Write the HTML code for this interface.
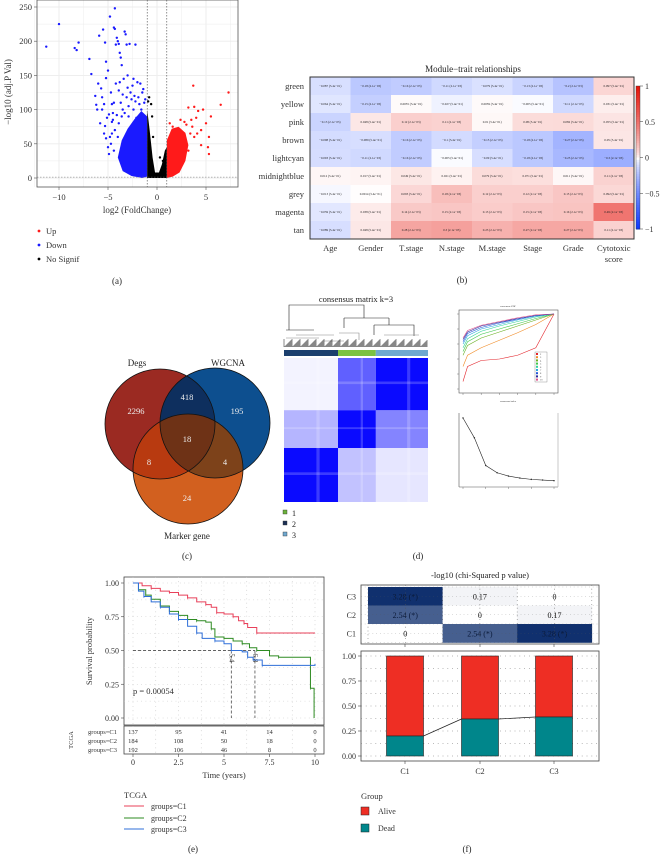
<!DOCTYPE html>
<html><head><meta charset="utf-8">
<style>
html,body{margin:0;padding:0;background:#fff;}
svg{display:block;font-family:"Liberation Serif",serif;}
</style></head>
<body>
<svg id="fig" width="664" height="854" viewBox="0 0 664 854" xmlns="http://www.w3.org/2000/svg">
<defs>
 <clipPath id="cDegs"><circle cx="160" cy="424" r="55"/></clipPath>
 <clipPath id="cWg"><circle cx="215" cy="423" r="55"/></clipPath>
 <clipPath id="cMk"><circle cx="188" cy="469" r="55"/></clipPath>
</defs>
<g id="pa"></g>
<g id="pb"></g>
<g id="pc">
 <circle cx="160" cy="424" r="55" fill="#9b2a22"/>
 <circle cx="215" cy="423" r="55" fill="#0d4f8f"/>
 <circle cx="188" cy="469" r="55" fill="#d2601f"/>
 <g clip-path="url(#cDegs)"><circle cx="215" cy="423" r="55" fill="#0e2f5e"/><circle cx="188" cy="469" r="55" fill="#b83a10"/></g>
 <g clip-path="url(#cWg)"><circle cx="188" cy="469" r="55" fill="#7d421a"/></g>
 <g clip-path="url(#cDegs)"><g clip-path="url(#cWg)"><circle cx="188" cy="469" r="55" fill="#6e3216"/></g></g>
 <circle cx="160" cy="424" r="55" fill="none" stroke="#111" stroke-width="0.8"/>
 <circle cx="215" cy="423" r="55" fill="none" stroke="#111" stroke-width="0.8"/>
 <circle cx="188" cy="469" r="55" fill="none" stroke="#111" stroke-width="0.8"/>
 <g font-size="8.5" fill="#eee" text-anchor="middle">
  <text x="136" y="414">2296</text>
  <text x="187" y="400">418</text>
  <text x="237" y="414">195</text>
  <text x="187" y="442">18</text>
  <text x="149" y="465">8</text>
  <text x="225" y="465">4</text>
  <text x="187" y="501">24</text>
 </g>
 <g font-size="9" fill="#222" text-anchor="middle">
  <text x="137" y="366">Degs</text>
  <text x="228" y="366">WGCNA</text>
  <text x="187" y="539">Marker gene</text>
  <text x="187" y="559">(c)</text>
 </g>
</g>
<g id="pd"></g>
<g id="pe"></g>
<g id="pf"></g>
</svg>
<script>
// ---------- DATA ----------
const volcBlue=[[-11.3,192],[-10,225],[-8.4,190],[-8.2,187],[-8,198],[-6.9,174],[-6.7,152],[-6.3,120],[-6.2,107],[-6.1,100],[-6,138],[-5.9,208],[-5.7,131],[-5.5,217],[-5.3,198],[-5.2,170],[-5.2,146],[-5,157],[-4.8,236],[-4.6,108],[-4.5,95],[-4.4,220],[-4.3,218],[-4.2,195],[-4.1,205],[-4,200],[-3.9,196],[-3.8,183],[-3.7,176],[-3.3,214],[-3.2,210],[-3.1,195],[-2.8,196],[-2.2,195],[-3.6,165],[-3.4,145],[-3,150],[-2.5,135],[-2,140],[-1.5,125],[-4.3,248],[-5.6,118],[-5.4,108],[-4.9,93],[-4.7,125],[-4.2,138],[-3.9,128],[-3.5,122],[-3.1,118],[-2.6,115],[-2.2,112],[-1.8,108],[-1.3,110],[-5.2,58],[-5,45],[-4.8,60],[-4.9,35],[-4.6,82],[-5.3,76],[-5.1,88],[-4.3,70],[-4.7,50],[-3.5,100],[-2.9,105],[-2.4,100],[-1.6,100],[-3.2,40],[-3.3,20],[-4,60],[-4.4,40],[-2.1,88],[-1.2,115],[-5.8,80],[-5.4,65],[-4.5,85],[-4.1,92],[-3.7,110],[-3.3,95],[-2.7,125],[-2.3,120],[-1.9,118],[-1.4,130],[-3.9,80],[-3.6,90],[-4.4,110],[-3,132],[-2.4,145],[-1.7,138],[-3.8,140],[-2.9,90],[-4.6,65],[-5.6,100]];
const volcRed=[[7.3,125],[6.5,107],[5.5,90],[5.3,60],[5.2,45],[5.3,35],[5,80],[4.7,100],[4.2,98],[3.8,104],[3.7,135],[3.2,103],[3.5,85],[4,88],[4.5,70],[3,78],[3.8,60],[3.4,65],[4.5,48],[2.9,55],[3.2,40],[2.6,30],[1.3,80],[1.6,75],[2.4,85],[2.8,82],[3.6,75],[4.1,65]];
const volcBlack=[[-0.8,118],[-0.6,108],[-0.9,112],[-0.5,90],[-0.4,60],[0.3,30],[0.6,25]];
const blobBlue=[[-1,2],[-1,90],[-1.6,98],[-2.3,86],[-3,72],[-3.6,55],[-4,30],[-3.5,10],[-2.6,3],[-1.5,0]];
const blobBlack=[[-1,0],[-1,100],[-0.75,70],[-0.45,30],[-0.2,8],[0.2,8],[0.5,20],[0.8,40],[1,45],[1,0]];
const blobRed=[[1,0],[1,55],[1.5,72],[2.2,75],[2.9,66],[3.2,48],[2.9,25],[2.3,8],[1.6,2]];
const volcXTicks=[-10,-5,0,5];
const volcYTicks=[0,50,100,150,200,250];
const modules=["green","yellow","pink","brown","lightcyan","midnightblue","grey","magenta","tan"];
const traits=["Age","Gender","T.stage","N.stage","M.stage","Stage","Grade","Cytotoxic score"];
const corrVals=[
[-0.087,-0.18,-0.16,-0.11,-0.079,-0.13,-0.2,0.097],
[-0.064,-0.15,0.0055,-0.027,0.0059,-0.005,-0.11,0.031],
[-0.13,0.048,0.12,0.11,0.01,0.08,0.082,0.055],
[-0.098,-0.089,-0.16,-0.1,-0.15,-0.18,-0.27,0.05],
[-0.093,-0.11,-0.16,-0.005,-0.09,-0.18,-0.25,-0.3],
[0.012,0.017,0.049,0.021,0.079,0.071,0.011,0.11],
[-0.013,0.0014,0.093,0.18,0.12,0.12,0.15,0.092],
[-0.059,0.038,0.14,0.15,0.13,0.15,0.16,0.49],
[-0.089,0.048,0.28,0.3,0.23,0.27,0.27,0.11]];
const cbTicks=[1,0.5,0,-0.5,-1];
const clusterSizes=[150,105,145];
const blockIntensity=[[0.05,0.65,1.0],[0.3,1.0,0.5],[1.0,0.25,0.1]];
const cdfX=[0,0.05,0.2,0.4,0.6,0.8,1];
const cdfK=["2","3","4","5","6","7","8","9","10"];
const cdfY=[
[0.1,0.3,0.38,0.4,0.45,0.55,1],
[0.3,0.45,0.55,0.65,0.75,0.86,1],
[0.45,0.58,0.68,0.76,0.84,0.92,1],
[0.5,0.63,0.73,0.8,0.87,0.94,1],
[0.55,0.67,0.77,0.84,0.9,0.96,1],
[0.6,0.71,0.8,0.86,0.92,0.97,1],
[0.63,0.74,0.82,0.88,0.93,0.98,1],
[0.66,0.76,0.84,0.89,0.94,0.98,1],
[0.68,0.78,0.85,0.9,0.95,0.99,1]];
const cdfColors=["#e3242b","#f08a24","#6ab023","#3ec84a","#2fd39a","#2aa7e0","#2255d8","#2a2a9a","#e0508a"];
const deltaK=[2,3,4,5,6,7,8,9,10];
const deltaVals=[1.0,0.7,0.28,0.17,0.12,0.09,0.07,0.06,0.05];
const survC1=[[0,1],[0.5,0.98],[1,0.96],[1.5,0.94],[2,0.93],[2.5,0.91],[3,0.89],[3.5,0.86],[4,0.84],[4.3,0.82],[4.6,0.78],[5,0.77],[5.5,0.75],[5.8,0.72],[6.1,0.7],[6.3,0.67],[6.8,0.63],[10,0.63]];
const survC2=[[0,1],[0.3,0.95],[0.7,0.91],[1,0.88],[1.5,0.83],[2,0.79],[2.5,0.76],[3,0.73],[3.5,0.72],[4,0.71],[4.3,0.66],[4.5,0.6],[5,0.59],[5.5,0.57],[6,0.55],[6.4,0.52],[6.8,0.5],[7.5,0.46],[8,0.45],[9.75,0.45],[9.75,0.22],[9.95,0.0]];
const survC3=[[0,1],[0.3,0.94],[0.6,0.9],[1,0.86],[1.5,0.82],[2,0.77],[2.5,0.73],[3,0.68],[3.5,0.63],[3.8,0.59],[4.5,0.57],[5,0.55],[5.4,0.5],[6,0.49],[6.3,0.45],[6.6,0.43],[7.1,0.39],[10,0.4]];
const medians=[5.4,6.7];
const medianLabels=["5.4","6.8"];
const riskTimes=[0,2.5,5,7.5,10];
const riskC1=[137,95,41,14,0];
const riskC2=[184,108,50,18,0];
const riskC3=[192,106,46,8,0];
const survXTicks=[0,2.5,5,7.5,10];
const survYTicks=[0,0.25,0.5,0.75,1];
const groups=["C1","C2","C3"];
const chiVals=[[0,2.54,3.28],[2.54,0,0.17],[3.28,0.17,0]];
const deadFrac=[0.2,0.37,0.39];
const propTicks=[0,0.25,0.5,0.75,1];

const NS="http://www.w3.org/2000/svg";
function mk(p,tag,at,txt){const e=document.createElementNS(NS,tag);for(const k in at)e.setAttribute(k,at[k]);if(txt!==undefined)e.textContent=txt;p.appendChild(e);return e;}
const pa=document.getElementById('pa'),pb=document.getElementById('pb'),pd=document.getElementById('pd'),pe=document.getElementById('pe'),pf=document.getElementById('pf');

// ---------- (a) ----------
{
const X=v=>157+v*9.8, Y=v=>178-v*0.684;
mk(pa,'rect',{x:37,y:0,width:201,height:187,fill:'#fff'});
for(let v=-12.5;v<=7.5;v+=2.5){mk(pa,'line',{x1:X(v),x2:X(v),y1:0,y2:187,stroke:'#ececec','stroke-width':v%5===0?0.9:0.5});}
for(let v=0;v<=275;v+=25){if(Y(v)<0)continue;mk(pa,'line',{x1:37,x2:238,y1:Y(v),y2:Y(v),stroke:'#ececec','stroke-width':v%50===0?0.9:0.5});}
[[blobBlue,'#1a1aff'],[blobBlack,'#000'],[blobRed,'#ff1a1a']].forEach(([b,c])=>{
 const p=mk(pa,'polygon',{points:b.map(d=>X(d[0])+','+Y(d[1])).join(' '),fill:c});
 
 
});
[[volcBlue,'#1a1aff'],[volcRed,'#ff1a1a'],[volcBlack,'#000']].forEach(([arr,c])=>arr.forEach(d=>{
 const e=mk(pa,'circle',{cx:X(d[0]),cy:Y(d[1]),r:1.2,fill:c});
 
 
}));
[-1,1].forEach(v=>mk(pa,'line',{x1:X(v),x2:X(v),y1:0,y2:187,stroke:'#444','stroke-width':0.6,'stroke-dasharray':'1.5,1.5'}));
mk(pa,'line',{x1:37,x2:238,y1:Y(1.3),y2:Y(1.3),stroke:'#777','stroke-width':0.5,'stroke-dasharray':'1.5,1.5'});
mk(pa,'rect',{x:37,y:0,width:201,height:187,fill:'none',stroke:'#555','stroke-width':0.8});
volcXTicks.forEach(v=>{mk(pa,'line',{x1:X(v),x2:X(v),y1:187,y2:190,stroke:'#555','stroke-width':0.6});
 const t=mk(pa,'text',{x:X(v),y:200,'font-size':8.5,'text-anchor':'middle',fill:'#333'},v<0?'\u2212'+(-v):String(v));
 });
volcYTicks.forEach(v=>{mk(pa,'line',{x1:34,x2:37,y1:Y(v),y2:Y(v),stroke:'#555','stroke-width':0.6});
 const t=mk(pa,'text',{x:32,y:Y(v)+3,'font-size':8.5,'text-anchor':'end',fill:'#333'},String(v));
 });
let t=mk(pa,'text',{x:137,y:213,'font-size':9,'text-anchor':'middle',fill:'#333'},'log2 (FoldChange)');

t=mk(pa,'text',{x:11,y:92,'font-size':9,'text-anchor':'middle',fill:'#333',transform:'rotate(-90 11 92)'},'\u2212log10 (adj.P Val)');

[['Up','#ff1a1a',231],['Down','#1a1aff',245],['No Signif','#000',259]].forEach(([n,c,y])=>{
 const g=mk(pa,'g',{});
 
 mk(g,'circle',{cx:39,cy:y,r:1.4,fill:c});mk(g,'text',{x:46,y:y+3,'font-size':8.5,fill:'#333'},n);});
t=mk(pa,'text',{x:117,y:284,'font-size':9,'text-anchor':'middle',fill:'#222'},'(a)');

}

// ---------- (b) ----------
{
const x0=310,y0=77,cw=40.5,rh=18;
function col(v){const t=Math.pow(Math.min(1,Math.abs(v)),0.75);
 if(v>=0){return `rgb(${Math.round(255-t*25)},${Math.round(255-t*235)},${Math.round(255-t*245)})`;}
 return `rgb(${Math.round(255-t*245)},${Math.round(255-t*200)},255)`;}
corrVals.forEach((row,i)=>row.forEach((v,j)=>{
 const r=mk(pb,'rect',{x:x0+j*cw,y:y0+i*rh,width:cw+0.3,height:rh+0.3,fill:col(v)});
 
 mk(pb,'text',{x:x0+j*cw+cw/2,y:y0+i*rh+rh/2+1.2,'font-size':3.2,'text-anchor':'middle',fill:'#222'},(v<0?'\u2212'+(-v):v)+' ('+(Math.abs(v)>0.1?'2.1e\u221203':'5.4e\u221201')+')');
}));
mk(pb,'rect',{x:x0,y:y0,width:cw*8,height:rh*9,fill:'none',stroke:'#333','stroke-width':1});
modules.forEach((m,i)=>{const t=mk(pb,'text',{x:304,y:y0+i*rh+rh/2+3,'font-size':8.5,'text-anchor':'end',fill:'#333'},m);
 });
traits.forEach((m,j)=>{const cx=x0+j*cw+cw/2;
 if(m==='Cytotoxic score'){const t=mk(pb,'text',{x:cx,y:251,'font-size':8.5,'text-anchor':'middle',fill:'#333'},'Cytotoxic');
  
  mk(pb,'text',{x:cx,y:262,'font-size':8.5,'text-anchor':'middle',fill:'#333'},'score');}
 else{const t=mk(pb,'text',{x:cx,y:251,'font-size':8.5,'text-anchor':'middle',fill:'#333'},m);
  }});
let t=mk(pb,'text',{x:473,y:72,'font-size':9,'text-anchor':'middle',fill:'#222'},'Module\u2212trait relationships');

const cbT=86,cbB=229,cbX=636;
const CY=v=>cbT+(1-v)/2*(cbB-cbT);
for(let k=0;k<60;k++){const v=1-k/30;mk(pb,'rect',{x:cbX,y:CY(v),width:4,height:(cbB-cbT)/60+0.5,fill:col(v)});}
const cb=mk(pb,'rect',{x:cbX,y:cbT,width:4,height:cbB-cbT,fill:'none',stroke:'#333','stroke-width':0.4});

cbTicks.forEach(v=>{mk(pb,'line',{x1:cbX+4,x2:cbX+7,y1:CY(v),y2:CY(v),stroke:'#333','stroke-width':0.5});
 const t=mk(pb,'text',{x:cbX+9,y:CY(v)+3,'font-size':8,fill:'#333'},v<0?'\u2212'+(-v):String(v));
 });
t=mk(pb,'text',{x:462,y:283,'font-size':9,'text-anchor':'middle',fill:'#222'},'(b)');

}

// ---------- (d) ----------
{
const mx=284,my=358,mw=144,mh=144;
const tot=clusterSizes.reduce((a,b)=>a+b,0);
const colW=clusterSizes.map(s=>s/tot*mw);
const colX=[mx,mx+colW[0],mx+colW[0]+colW[1]];
const rowOrder=[2,1,0];
let t=mk(pd,'text',{x:356,y:302,'font-size':8.5,'text-anchor':'middle',fill:'#222'},'consensus matrix k=3');

const den=mk(pd,'g',{stroke:'#222','stroke-width':0.6,fill:'none'});

mk(den,'path',{d:`M${mx+5} 330 V305 H${mx+80} V318 M${mx+60} 318 H${mx+105} M${mx+60} 318 V328 M${mx+105} 318 V325 M${mx+2} 330 H${mx+30} M${mx+90} 325 H${mx+130} V336 M${mx+90} 325 V335`});
mk(den,'path',{d:`M${mx+2} 338 H${mx+35} M${mx+12} 335 H${mx+50} M${mx+55} 333 H${mx+75} V340 M${mx+100} 335 H${mx+135} M${mx+40} 341 H${mx+60}`,stroke:'#888'});
for(let i=0;i<144;i++){mk(den,'line',{x1:mx+i,x2:mx+i,y1:347,y2:339+((i*7)%8),stroke:'#111','stroke-width':0.5});}
const barCols=['#1b3f6e','#7cc242','#6fa8d0'];
[0,1,2].forEach(j=>{const r=mk(pd,'rect',{x:colX[j],y:350,width:colW[j],height:6,fill:barCols[j]});
 });
mk(pd,'rect',{x:mx,y:my,width:mw,height:mh,fill:'#fff'});
let ry=my;
rowOrder.forEach((ci,ri)=>{const h=colW[ci];
 [0,1,2].forEach(j=>{const r=mk(pd,'rect',{x:colX[j],y:ry,width:colW[j],height:h,fill:'#0a0aff','fill-opacity':blockIntensity[ri][j]});
  
  mk(pd,'rect',{x:colX[j]+colW[j]*0.6,y:ry,width:colW[j]*0.06,height:h,fill:'#fff','fill-opacity':0.2});
  mk(pd,'rect',{x:colX[j],y:ry+h*0.45,width:colW[j],height:h*0.05,fill:'#fff','fill-opacity':0.2});
 });
 ry+=h;});
[['1','#6bb33a',513],['2','#1b2f55',524],['3','#6fa8d0',535]].forEach(([n,c,y])=>{
 const g=mk(pd,'g',{});
 mk(g,'rect',{x:283,y:y-3,width:4,height:4,fill:c,stroke:'#333','stroke-width':0.4});
 mk(g,'text',{x:292,y:y+3,'font-size':8,fill:'#222'},n);});
const cx0=459,cx1=558,cy0=310,cy1=393;
const CX=v=>cx0+4+v*(cx1-cx0-8), CYv=v=>cy1-4-v*(cy1-cy0-8);
mk(pd,'rect',{x:cx0,y:cy0,width:cx1-cx0,height:cy1-cy0,fill:'none',stroke:'#555','stroke-width':0.6});
mk(pd,'text',{x:508,y:307,'font-size':2.5,'text-anchor':'middle',fill:'#333'},'consensus CDF');
cdfY.forEach((ys,k)=>{const p=mk(pd,'polyline',{points:ys.map((v,i)=>CX(cdfX[i])+','+CYv(v)).join(' '),fill:'none',stroke:cdfColors[k],'stroke-width':0.6});
 });
mk(pd,'rect',{x:535,y:352,width:12,height:30,fill:'#fff',stroke:'#555','stroke-width':0.3});
cdfK.forEach((k,i)=>{mk(pd,'rect',{x:536,y:353+i*3.2,width:2,height:2,fill:cdfColors[i]});mk(pd,'text',{x:540,y:355+i*3.2,'font-size':2.5,fill:'#333'},k);});
for(let i=0;i<6;i++){mk(pd,'line',{x1:cx0+4+i*(cx1-cx0-8)/5,x2:cx0+4+i*(cx1-cx0-8)/5,y1:cy1,y2:cy1+2,stroke:'#555','stroke-width':0.4});
 mk(pd,'line',{x1:cx0-2,x2:cx0,y1:cy1-4-i*(cy1-cy0-8)/5,y2:cy1-4-i*(cy1-cy0-8)/5,stroke:'#555','stroke-width':0.4});}
mk(pd,'text',{x:508,y:402,'font-size':2.5,'text-anchor':'middle',fill:'#333'},'consensus index');
const dx0=459,dx1=558,dy0=413,dy1=487;
const DX=k=>dx0+4+(k-2)/8*(dx1-dx0-8), DY=v=>dy1-3-v*(dy1-dy0-8);
mk(pd,'line',{x1:dx0,x2:dx0,y1:dy0,y2:dy1,stroke:'#555','stroke-width':0.6});
mk(pd,'line',{x1:dx0,x2:dx1,y1:dy1,y2:dy1,stroke:'#555','stroke-width':0.6});
mk(pd,'line',{x1:dx1,x2:dx1,y1:dy0,y2:dy1,stroke:'#bbb','stroke-width':0.8});
const dl=mk(pd,'polyline',{points:deltaK.map((k,i)=>DX(k)+','+DY(deltaVals[i])).join(' '),fill:'none',stroke:'#222','stroke-width':0.6});

deltaK.forEach((k,i)=>mk(pd,'circle',{cx:DX(k),cy:DY(deltaVals[i]),r:0.7,fill:'#222'}));
[2,4,6,8,10].forEach(k=>mk(pd,'line',{x1:DX(k),x2:DX(k),y1:dy1,y2:dy1+2,stroke:'#555','stroke-width':0.4}));
t=mk(pd,'text',{x:418,y:559,'font-size':9,'text-anchor':'middle',fill:'#222'},'(d)');

}

// ---------- (e) ----------
{
const bx0=124,bx1=324,by0=577,by1=725;
const X=v=>133+v*18.2, Y=v=>718-v*135;
mk(pe,'rect',{x:bx0,y:by0,width:bx1-bx0,height:by1-by0,fill:'#fff',stroke:'#444','stroke-width':0.8});
for(let v=0;v<=10;v+=1.25)mk(pe,'line',{x1:X(v),x2:X(v),y1:by0,y2:by1,stroke:'#bbb','stroke-width':0.6,'stroke-dasharray':'0.8,3.5'});
for(let v=0;v<=1;v+=0.125)mk(pe,'line',{x1:bx0,x2:bx1,y1:Y(v),y2:Y(v),stroke:'#bbb','stroke-width':0.6,'stroke-dasharray':'0.8,3.5'});
mk(pe,'path',{d:`M${X(0)} ${Y(0.5)} H${X(medians[1])}`,stroke:'#333','stroke-width':0.7,'stroke-dasharray':'3,2',fill:'none'});
medians.forEach((m,i)=>{mk(pe,'line',{x1:X(m),x2:X(m),y1:Y(0.5),y2:Y(0),stroke:'#333','stroke-width':0.7,'stroke-dasharray':'3,2'});
 mk(pe,'text',{x:X(m)-2,y:Y(0.5)+3,'font-size':7,fill:'#333',transform:`rotate(90 ${X(m)-2} ${Y(0.5)+3})`},medianLabels[i]);});
function step(arr){let d=`M${X(arr[0][0])} ${Y(arr[0][1])}`;for(let i=1;i<arr.length;i++){d+=` H${X(arr[i][0])} V${Y(arr[i][1])}`;}return d;}
[[survC1,'#e8405a','c1'],[survC2,'#2e8b22','c2'],[survC3,'#2f6fd8','c3']].forEach(([a,c,n])=>{
 const p=mk(pe,'path',{d:step(a),fill:'none',stroke:c,'stroke-width':1});
 
 a.forEach((d,i)=>{if(i>0&&i%2===0)mk(pe,'line',{x1:X(d[0]),x2:X(d[0]),y1:Y(d[1])-1.5,y2:Y(d[1])+1.5,stroke:c,'stroke-width':0.6});});
});
let t=mk(pe,'text',{x:133,y:694,'font-size':8.5,fill:'#333'},'p = 0.00054');

survYTicks.forEach(v=>{mk(pe,'line',{x1:121,x2:124,y1:Y(v),y2:Y(v),stroke:'#444','stroke-width':0.6});
 const t=mk(pe,'text',{x:119,y:Y(v)+3,'font-size':8,'text-anchor':'end',fill:'#333'},v.toFixed(2));
 });
t=mk(pe,'text',{x:92,y:651,'font-size':8.5,'text-anchor':'middle',fill:'#333',transform:'rotate(-90 92 651)'},'Survival probability');

const rt=mk(pe,'rect',{x:bx0,y:726,width:bx1-bx0,height:28,fill:'#fff',stroke:'#444','stroke-width':0.8});

for(let v=0;v<=10;v+=1.25)mk(pe,'line',{x1:X(v),x2:X(v),y1:726,y2:754,stroke:'#bbb','stroke-width':0.6,'stroke-dasharray':'0.8,3.5'});
[[riskC1,'groups=C1',734],[riskC2,'groups=C2',743],[riskC3,'groups=C3',752]].forEach(([r,n,y])=>{
 const t=mk(pe,'text',{x:117,y:y,'font-size':6.5,'text-anchor':'end',fill:'#333'},n);
 
 r.forEach((v,i)=>mk(pe,'text',{x:X(riskTimes[i]),y:y,'font-size':6.5,'text-anchor':'middle',fill:'#333'},String(v)));});
mk(pe,'text',{x:73,y:740,'font-size':6.5,'text-anchor':'middle',fill:'#333',transform:'rotate(-90 73 740)'},'TCGA');
survXTicks.forEach(v=>{mk(pe,'line',{x1:X(v),x2:X(v),y1:754,y2:757,stroke:'#444','stroke-width':0.6});
 const t=mk(pe,'text',{x:X(v),y:765,'font-size':8,'text-anchor':'middle',fill:'#333'},String(v));
 });
t=mk(pe,'text',{x:224,y:778,'font-size':8.5,'text-anchor':'middle',fill:'#333'},'Time (years)');

mk(pe,'text',{x:124,y:798,'font-size':8.5,fill:'#333'},'TCGA');
[['groups=C1','#e8405a',806],['groups=C2','#2e8b22',818],['groups=C3','#2f6fd8',829]].forEach(([n,c,y])=>{
 const g=mk(pe,'g',{});
 mk(g,'line',{x1:124,x2:144,y1:y,y2:y,stroke:c,'stroke-width':1});
 mk(g,'text',{x:151,y:y+3,'font-size':8,fill:'#333'},n);});
t=mk(pe,'text',{x:193,y:852,'font-size':9,'text-anchor':'middle',fill:'#222'},'(e)');

}

// ---------- (f) ----------
{
let t=mk(pf,'text',{x:480,y:578,'font-size':8.5,'text-anchor':'middle',fill:'#222'},'-log10 (chi-Squared p value)');

const hx0=361,hx1=599,hy0=585,hy1=644;
const cx=368,cw=74.6,rh=18.5,cy=587;
mk(pf,'rect',{x:hx0,y:hy0,width:hx1-hx0,height:hy1-hy0,fill:'#fff',stroke:'#444','stroke-width':0.8});
const maxV=3.28;
function hcol(v){const t=v/maxV;return `rgb(${Math.round(255-t*(255-16))},${Math.round(255-t*(255-48))},${Math.round(255-t*(255-110))})`;}
[2,1,0].forEach((gi,ri)=>{groups.forEach((g,j)=>{const v=chiVals[gi][j];
 const r=mk(pf,'rect',{x:cx+j*cw,y:cy+ri*rh,width:cw+0.3,height:rh+0.3,fill:hcol(v)});
 
 mk(pf,'text',{x:cx+j*cw+cw/2,y:cy+ri*rh+rh/2+3,'font-size':8,'text-anchor':'middle',fill:v>2?'#0a1a3a':'#111'},v===0?'0':(v>2?v.toFixed(2)+' (*)':v.toFixed(2)));});
 const t=mk(pf,'text',{x:356,y:cy+ri*rh+rh/2+3,'font-size':8,'text-anchor':'end',fill:'#333'},groups[gi]);
 });
for(let i=0;i<=6;i++){mk(pf,'line',{x1:cx+i*cw/2,x2:cx+i*cw/2,y1:hy0,y2:hy1,stroke:'#555','stroke-width':0.6,'stroke-dasharray':'0.8,3'});}
for(let i=0;i<=6;i++){mk(pf,'line',{x1:hx0,x2:hx1,y1:cy+i*rh/2,y2:cy+i*rh/2,stroke:'#555','stroke-width':0.6,'stroke-dasharray':'0.8,3','stroke-opacity':0.5});}
const bx0=361,bx1=599,by0=651,by1=761;
const Y=v=>756-v*100;
const centers=[405,480,554],bw=37;
mk(pf,'rect',{x:bx0,y:by0,width:bx1-bx0,height:by1-by0,fill:'#fff',stroke:'#444','stroke-width':0.8});
for(let v=0;v<=1;v+=0.125)mk(pf,'line',{x1:bx0,x2:bx1,y1:Y(v),y2:Y(v),stroke:'#555','stroke-width':0.6,'stroke-dasharray':'0.8,4'});
groups.forEach((g,i)=>{const x=centers[i]-bw/2;
 const a=mk(pf,'rect',{x:x,y:Y(1),width:bw,height:Y(deadFrac[i])-Y(1),fill:'#ee2e24',stroke:'#222','stroke-width':0.6});
 
 const d=mk(pf,'rect',{x:x,y:Y(deadFrac[i]),width:bw,height:Y(0)-Y(deadFrac[i]),fill:'#00868b',stroke:'#222','stroke-width':0.6});
 
 mk(pf,'line',{x1:centers[i],x2:centers[i],y1:by1,y2:by1+3,stroke:'#444','stroke-width':0.6});
 const t=mk(pf,'text',{x:centers[i],y:774,'font-size':8,'text-anchor':'middle',fill:'#333'},g);
 
 mk(pf,'line',{x1:centers[i],x2:centers[i],y1:hy1,y2:hy1+3,stroke:'#444','stroke-width':0.6});
});
for(let i=0;i<2;i++){mk(pf,'line',{x1:centers[i]+bw/2,x2:centers[i+1]-bw/2,y1:Y(deadFrac[i]),y2:Y(deadFrac[i+1]),stroke:'#222','stroke-width':0.7});}
propTicks.forEach(v=>{mk(pf,'line',{x1:358,x2:361,y1:Y(v),y2:Y(v),stroke:'#444','stroke-width':0.6});
 const t=mk(pf,'text',{x:356,y:Y(v)+3,'font-size':8,'text-anchor':'end',fill:'#333'},v.toFixed(2));
 });
mk(pf,'text',{x:361,y:799,'font-size':8.5,fill:'#333'},'Group');
[['Alive','#ee2e24',811],['Dead','#00868b',828]].forEach(([n,c,y])=>{
 const g=mk(pf,'g',{});
 mk(g,'rect',{x:361,y:y-4,width:8,height:8,fill:c,stroke:'#222','stroke-width':0.5});
 mk(g,'text',{x:378,y:y+3,'font-size':8,fill:'#333'},n);});
t=mk(pf,'text',{x:467,y:852,'font-size':9,'text-anchor':'middle',fill:'#222'},'(f)');

}
</script>
</body></html>
